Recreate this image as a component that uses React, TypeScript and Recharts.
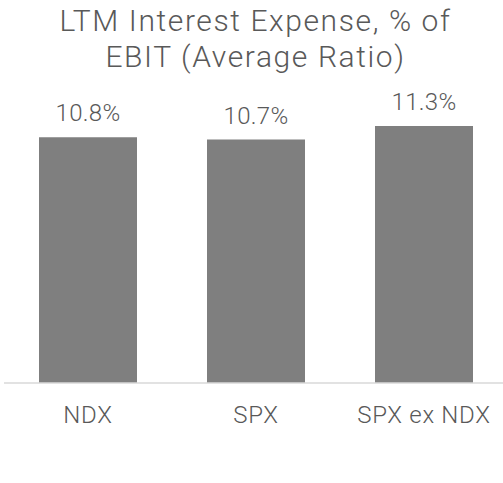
import { BarChart, Bar, XAxis, YAxis, LabelList } from 'recharts'

// LTM interest expense as a share of EBIT, average ratio by index
const indices = ['NDX', 'SPX', 'SPX ex NDX']
const interestPctOfEbit = [10.8, 10.7, 11.3]

const titleLines = ['LTM Interest Expense, % of', 'EBIT (Average Ratio)']

const chartData = indices.map((name, i) => ({ name, value: interestPctOfEbit[i] }))

const TEXT = '#595959'
const FONT = 'Roboto, "Noto Sans", sans-serif'

export default function App() {
  return (
    <div
      style={{
        position: 'fixed',
        left: 0,
        top: 0,
        width: 503,
        height: 483,
        overflow: 'hidden',
        background: '#fff',
        fontFamily: FONT,
      }}
    >
      <div
        style={{
          position: 'absolute',
          left: 0,
          top: 3,
          width: 511,
          textAlign: 'center',
          fontSize: 30,
          lineHeight: '36px',
          fontWeight: 300,
          letterSpacing: 1.6,
          color: TEXT,
        }}
      >
        {titleLines.map((t) => (
          <div key={t}>{t}</div>
        ))}
      </div>
      <BarChart
        width={508}
        height={483}
        data={chartData}
        margin={{ top: 110, right: 0, bottom: 40, left: 4 }}
        style={{ position: 'absolute', left: 0, top: 0 }}
      >
        <XAxis
          dataKey="name"
          height={60}
          axisLine={{ stroke: '#d9d9d9', strokeWidth: 1.5 }}
          tickLine={false}
          tickSize={0}
          tickMargin={23}
          tick={{ fill: TEXT, fontSize: 24, fontWeight: 300, fontFamily: FONT, letterSpacing: 0.7 }}
        />
        <YAxis hide domain={[0, 12]} />
        <Bar dataKey="value" fill="#7f7f7f" barSize={98} isAnimationActive={false}>
          <LabelList
            dataKey="value"
            position="top"
            offset={16}
            formatter={(v: number) => `${v.toFixed(1)}%`}
            style={{ fill: TEXT, fontSize: 24, fontWeight: 300, fontFamily: FONT, letterSpacing: 0.3 }}
          />
        </Bar>
      </BarChart>
    </div>
  )
}
